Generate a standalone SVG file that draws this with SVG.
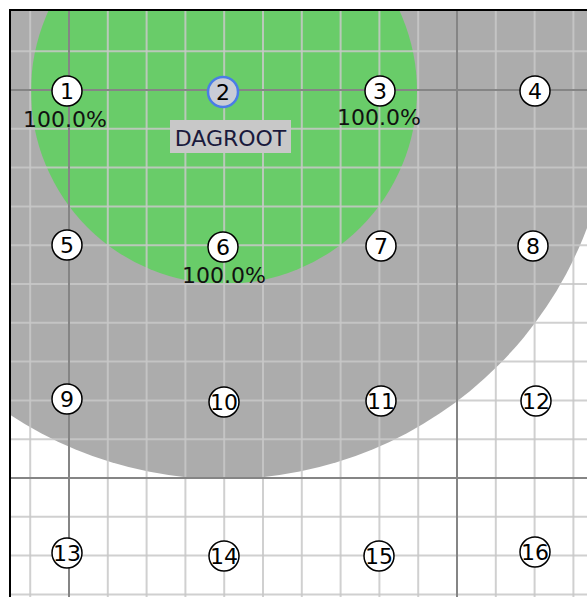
<svg xmlns="http://www.w3.org/2000/svg" width="587" height="597" viewBox="0 0 587 597">
<defs>
<style>
.minor{stroke:#c8c8c8;stroke-width:2;stroke-opacity:0.85}
.major{stroke:#858585;stroke-width:2}
.node circle{fill:#ffffff;stroke:#000000;stroke-width:1.5}
.node text{font-family:"DejaVu Sans",sans-serif;font-size:22px;fill:#000000;text-anchor:middle}
.pct{font-family:"DejaVu Sans",sans-serif;font-size:22px;fill:#111111;text-anchor:middle}
</style>
<clipPath id="area"><rect x="10" y="10" width="600" height="600"/></clipPath>
</defs>
<rect x="0" y="0" width="587" height="597" fill="#ffffff"/>
<g clip-path="url(#area)">
<rect x="10" y="10" width="600" height="600" fill="#ffffff"/>
<circle id="range-outer" cx="224" cy="91" r="388" fill="#acacac"/>
<circle id="range-inner" cx="224" cy="91" r="193" fill="#69cc69"/>
<g id="grid">
<line class="minor" x1="30.2" y1="0" x2="30.2" y2="597"/>
<line class="minor" x1="107.8" y1="0" x2="107.8" y2="597"/>
<line class="minor" x1="146.6" y1="0" x2="146.6" y2="597"/>
<line class="minor" x1="185.4" y1="0" x2="185.4" y2="597"/>
<line class="minor" x1="224.2" y1="0" x2="224.2" y2="597"/>
<line class="minor" x1="263" y1="0" x2="263" y2="597"/>
<line class="minor" x1="301.8" y1="0" x2="301.8" y2="597"/>
<line class="minor" x1="340.6" y1="0" x2="340.6" y2="597"/>
<line class="minor" x1="379.4" y1="0" x2="379.4" y2="597"/>
<line class="minor" x1="418.2" y1="0" x2="418.2" y2="597"/>
<line class="minor" x1="495.8" y1="0" x2="495.8" y2="597"/>
<line class="minor" x1="534.6" y1="0" x2="534.6" y2="597"/>
<line class="minor" x1="573.4" y1="0" x2="573.4" y2="597"/>
<line class="minor" x1="0" y1="51.2" x2="587" y2="51.2"/>
<line class="minor" x1="0" y1="128.8" x2="587" y2="128.8"/>
<line class="minor" x1="0" y1="167.6" x2="587" y2="167.6"/>
<line class="minor" x1="0" y1="206.4" x2="587" y2="206.4"/>
<line class="minor" x1="0" y1="245.2" x2="587" y2="245.2"/>
<line class="minor" x1="0" y1="284" x2="587" y2="284"/>
<line class="minor" x1="0" y1="322.8" x2="587" y2="322.8"/>
<line class="minor" x1="0" y1="361.6" x2="587" y2="361.6"/>
<line class="minor" x1="0" y1="400.4" x2="587" y2="400.4"/>
<line class="minor" x1="0" y1="439.2" x2="587" y2="439.2"/>
<line class="minor" x1="0" y1="516.8" x2="587" y2="516.8"/>
<line class="minor" x1="0" y1="555.6" x2="587" y2="555.6"/>
<line class="minor" x1="0" y1="594.4" x2="587" y2="594.4"/>
<line class="major" x1="69" y1="0" x2="69" y2="597"/>
<line class="major" x1="457" y1="0" x2="457" y2="597"/>
<line class="major" x1="0" y1="90" x2="587" y2="90"/>
<line class="major" x1="0" y1="478" x2="587" y2="478"/>
</g>
</g>
<g id="frame" stroke="#000000" stroke-width="2" fill="none">
<line x1="10" y1="9" x2="10" y2="597"/>
<line x1="9" y1="10" x2="587" y2="10"/>
</g>
<g id="connectors"></g>
<g id="n1" class="node"><circle cx="67" cy="91" r="15"/><text x="67" y="99">1</text></g>
<g id="n2" class="node"><circle cx="223" cy="92" r="15" style="fill:#c9ccd6;stroke:#4a7de6;stroke-width:2.5"/><text x="223" y="100">2</text></g>
<g id="n3" class="node"><circle cx="380" cy="91" r="15"/><text x="380" y="99">3</text></g>
<g id="n4" class="node"><circle cx="535" cy="91" r="15"/><text x="535" y="99">4</text></g>
<g id="n5" class="node"><circle cx="67" cy="245" r="15"/><text x="67" y="253">5</text></g>
<g id="n6" class="node"><circle cx="223" cy="247" r="15"/><text x="223" y="255">6</text></g>
<g id="n7" class="node"><circle cx="381" cy="246" r="15"/><text x="381" y="254">7</text></g>
<g id="n8" class="node"><circle cx="533" cy="246" r="15"/><text x="533" y="254">8</text></g>
<g id="n9" class="node"><circle cx="67" cy="399" r="15"/><text x="67" y="407">9</text></g>
<g id="n10" class="node"><circle cx="224" cy="402" r="15"/><text x="224" y="410">10</text></g>
<g id="n11" class="node"><circle cx="381" cy="401" r="15"/><text x="381" y="409">11</text></g>
<g id="n12" class="node"><circle cx="536" cy="401" r="15"/><text x="536" y="409">12</text></g>
<g id="n13" class="node"><circle cx="67" cy="553" r="15"/><text x="67" y="561">13</text></g>
<g id="n14" class="node"><circle cx="224" cy="556" r="15"/><text x="224" y="564">14</text></g>
<g id="n15" class="node"><circle cx="379" cy="556" r="15"/><text x="379" y="564">15</text></g>
<g id="n16" class="node"><circle cx="535" cy="552" r="15"/><text x="535" y="560">16</text></g>
<g id="labels">
<text class="pct" x="65" y="127">100.0%</text>
<text class="pct" x="379" y="125">100.0%</text>
<text class="pct" x="224" y="283">100.0%</text>
<rect x="170" y="120" width="121" height="33" fill="#c8c8c8"/>
<text x="230.5" y="146" font-family="DejaVu Sans, sans-serif" font-size="22" fill="#1a1a3c" text-anchor="middle">DAGROOT</text>
</g>
</svg>
